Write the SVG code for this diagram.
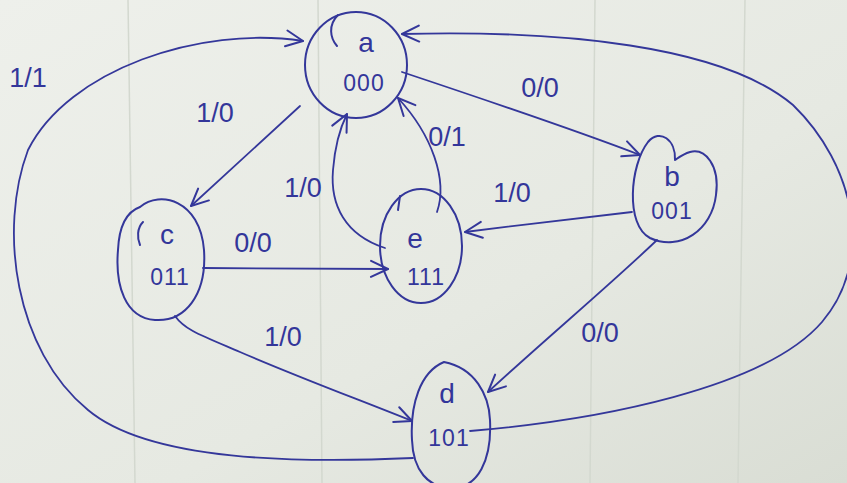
<svg xmlns="http://www.w3.org/2000/svg" width="847" height="483" viewBox="0 0 847 483">
<defs>
<linearGradient id="paper" x1="0" y1="0" x2="1" y2="1">
<stop offset="0" stop-color="#eef0eb"/>
<stop offset="0.6" stop-color="#e6e9e2"/>
<stop offset="1" stop-color="#d9ddd4"/>
</linearGradient>
<marker id="arr" viewBox="0 0 20 20" refX="19" refY="10" markerWidth="20" markerHeight="20" markerUnits="userSpaceOnUse" orient="auto">
<path d="M2,2 L19,10 L2,18" fill="none" stroke="#34379a" stroke-width="2" stroke-linecap="round" stroke-linejoin="round"/>
</marker>
<style>
.node{fill:none;stroke:#34379a;stroke-width:2;stroke-linecap:round}
.edge{fill:none;stroke:#34379a;stroke-width:1.8;stroke-linecap:round}
.t{font-family:"Liberation Sans","DejaVu Sans",sans-serif;fill:#33369a;text-anchor:middle;dominant-baseline:central}
.nm{font-size:28px}
.code{font-size:23px;letter-spacing:1px}
.lb{font-size:27px}
.grid{stroke:#d3d8cf;stroke-width:1.5}
</style>
</defs>
<rect width="847" height="483" fill="url(#paper)"/>
<g id="paper-lines">
<line class="grid" x1="128" y1="0" x2="135" y2="483"/>
<line class="grid" x1="318" y1="0" x2="322" y2="483"/>
<line class="grid" x1="595" y1="0" x2="590" y2="483"/>
<line class="grid" x1="745" y1="0" x2="738" y2="483"/>
</g>
<g id="connectors">
<path class="edge" d="M402 72 C 480 98, 570 128, 640 155" marker-end="url(#arr)"/>
<path class="edge" d="M632 212 C 580 218, 520 225, 465 232" marker-end="url(#arr)"/>
<path class="edge" d="M657 240 C 610 285, 550 335, 488 392" marker-end="url(#arr)"/>
<path class="edge" d="M470 431 C 600 420, 765 388, 822 322 C 875 260, 855 165, 793 105 C 722 45, 560 30, 402 34" marker-end="url(#arr)"/>
<path class="edge" d="M413 458 C 300 463, 150 462, 88 410 C 15 350, -2 230, 28 150 C 68 70, 200 25, 303 41" marker-end="url(#arr)"/>
<path class="edge" d="M300 106 L 191 206" marker-end="url(#arr)"/>
<path class="edge" d="M203 268 L 388 269" marker-end="url(#arr)"/>
<path class="edge" d="M175 316 C 185 330, 200 335, 240 352 C 300 378, 360 400, 412 421" marker-end="url(#arr)"/>
<path class="edge" d="M385 248 C 345 235, 330 205, 333 170 C 335 145, 340 128, 347 114" marker-end="url(#arr)"/>
<path class="edge" d="M437 212 C 448 180, 432 135, 398 98" marker-end="url(#arr)"/>
</g>
<g id="node-a">
<ellipse class="node" cx="356" cy="65" rx="51" ry="53"/>
<path class="node" d="M338 15 C 328 25, 330 38, 337 46"/>
<text class="t nm" x="366" y="42">a</text>
<text class="t code" x="364" y="83">000</text>
</g>
<g id="node-b">
<path class="node" d="M675 160 C 676 140, 660 128, 648 142 C 630 165, 625 225, 650 238 C 680 252, 712 230, 716 195 C 720 165, 705 148, 690 152 C 683 154, 678 158, 675 160"/>
<text class="t nm" x="672" y="176">b</text>
<text class="t code" x="672" y="211">001</text>
</g>
<g id="node-c">
<path class="node" d="M140 207 C 160 190, 200 200, 204 250 C 207 295, 185 322, 155 320 C 125 318, 115 285, 118 250 C 119 228, 126 212, 140 207 Z"/>
<path class="node" d="M143 222 C 137 228, 137 238, 140 245"/>
<text class="t nm" x="167" y="234">c</text>
<text class="t code" x="170" y="277">011</text>
</g>
<g id="node-e">
<ellipse class="node" cx="421" cy="246" rx="41" ry="57"/>
<path class="node" d="M400 196 L 398 210"/>
<text class="t nm" x="415" y="238">e</text>
<text class="t code" x="426" y="277">111</text>
</g>
<g id="node-d">
<path class="node" d="M444 362 C 420 372, 410 405, 412 440 C 413 470, 428 488, 452 488 C 478 488, 492 460, 490 420 C 489 395, 475 368, 444 362 Z"/>
<text class="t nm" x="447" y="393">d</text>
<text class="t code" x="449" y="438">101</text>
</g>
<g id="labels">
<text class="t lb" x="540" y="88">0/0</text>
<text class="t lb" x="447" y="137">0/1</text>
<text class="t lb" x="512" y="193">1/0</text>
<text class="t lb" x="600" y="333">0/0</text>
<text class="t lb" x="283" y="337">1/0</text>
<text class="t lb" x="253" y="243">0/0</text>
<text class="t lb" x="303" y="188">1/0</text>
<text class="t lb" x="215" y="113">1/0</text>
<text class="t lb" x="28" y="78">1/1</text>
</g>
</svg>
